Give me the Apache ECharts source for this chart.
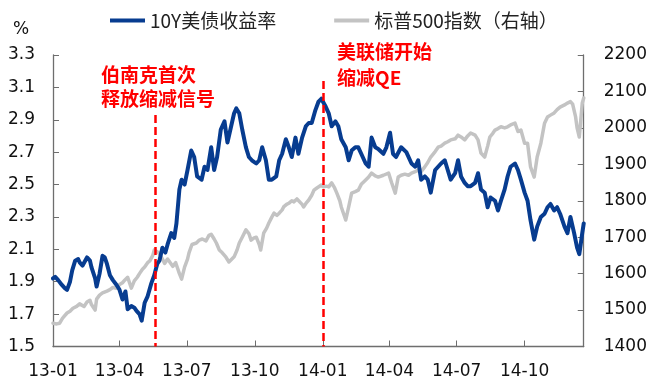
<!DOCTYPE html>
<html>
<head>
<meta charset="utf-8">
<script src="https://cdn.jsdelivr.net/npm/echarts@6/dist/echarts.min.js"></script>
<style>
  html, body { margin: 0; padding: 0; background: #fff; }
  #chart { width: 650px; height: 383px; }
</style>
</head>
<body>
<div id="chart"></div>
<script>
// 10-year Treasury yield (%), sampled by day offset from 2013-01-01
const yieldDays = [0,3,7,12,16,19,23,26,30,34,36,40,46,50,52,57,59,63,67,70,73,77,81,86,90,94,98,101,106,110,113,117,120,124,128,133,137,141,144,148,152,155,160,164,167,171,174,178,182,187,191,195,201,205,209,214,218,222,227,232,236,241,245,248,252,256,261,265,269,275,279,283,288,292,296,302,306,310,315,319,323,328,332,337,342,346,350,355,359,363,369,373,377,382,386,390,396,400,404,409,413,417,423,427,431,436,440,447,451,456,460,464,471,478,485,490,494,498,503,507,511,517,521,525,530,534,538,544,548,552,557,561,565,571,575,579,584,588,592,598,602,606,611,615,619,625,629,633,638,642,646,651,655,660,665,669,673,678,682,686,692,696,700,705,709,712,716,718];
const yieldValues = [1.92,1.93,1.91,1.88,1.86,1.85,1.90,1.97,2.03,2.04,2.02,2.00,2.05,2.03,1.99,1.92,1.87,1.95,2.06,2.05,2.01,1.94,1.91,1.88,1.85,1.79,1.84,1.73,1.75,1.74,1.72,1.70,1.66,1.77,1.81,1.89,1.94,2.01,2.03,2.11,2.08,2.13,2.20,2.17,2.26,2.47,2.53,2.50,2.59,2.71,2.67,2.55,2.53,2.61,2.59,2.73,2.59,2.67,2.84,2.89,2.76,2.86,2.94,2.97,2.94,2.84,2.73,2.67,2.65,2.63,2.65,2.73,2.65,2.53,2.53,2.55,2.65,2.69,2.78,2.73,2.67,2.79,2.69,2.79,2.86,2.88,2.88,2.96,3.01,3.03,2.98,2.94,2.86,2.89,2.86,2.78,2.73,2.65,2.71,2.73,2.73,2.69,2.63,2.61,2.79,2.73,2.72,2.69,2.73,2.82,2.69,2.67,2.73,2.70,2.63,2.61,2.65,2.53,2.55,2.53,2.45,2.59,2.61,2.63,2.65,2.59,2.53,2.57,2.65,2.55,2.51,2.49,2.49,2.51,2.57,2.47,2.45,2.36,2.42,2.40,2.34,2.40,2.47,2.55,2.61,2.63,2.59,2.53,2.45,2.40,2.28,2.16,2.24,2.30,2.32,2.36,2.38,2.34,2.36,2.32,2.24,2.20,2.30,2.20,2.11,2.07,2.20,2.26];

// S&P 500 index level, sampled by day offset from 2013-01-01
const spxDays = [0,5,9,13,19,23,27,32,36,42,46,50,52,57,59,63,67,73,77,81,86,90,94,97,101,106,110,114,117,121,124,128,131,135,137,141,144,148,151,155,157,162,166,168,171,174,178,182,184,188,194,198,202,207,211,214,218,221,225,229,234,238,242,245,249,252,256,261,265,268,272,275,279,281,285,289,292,296,299,303,306,310,312,316,319,323,326,330,332,337,339,343,346,350,353,357,359,363,366,370,373,377,381,384,388,390,393,396,400,404,409,413,417,423,427,431,436,440,447,454,458,463,467,471,476,481,485,490,494,498,503,507,511,517,521,525,530,534,538,544,548,552,557,561,565,571,575,579,584,588,591,595,598,602,606,611,615,619,625,629,633,638,642,646,651,655,660,665,669,673,678,682,686,692,696,700,703,707,709,712,716,718];
const spxValues = [1464,1462,1464,1478,1492,1497,1505,1510,1517,1510,1522,1527,1515,1500,1530,1541,1547,1552,1556,1562,1560,1570,1575,1582,1590,1560,1580,1590,1600,1612,1618,1630,1635,1650,1665,1660,1655,1640,1628,1640,1643,1620,1630,1635,1600,1585,1618,1640,1657,1680,1684,1692,1695,1690,1705,1708,1695,1684,1665,1657,1645,1632,1640,1646,1665,1684,1700,1720,1710,1692,1698,1700,1680,1665,1711,1725,1739,1755,1766,1760,1766,1775,1783,1790,1793,1800,1797,1805,1802,1790,1783,1795,1802,1815,1829,1835,1838,1843,1838,1840,1838,1849,1835,1821,1800,1783,1765,1747,1783,1821,1825,1829,1845,1857,1865,1876,1868,1865,1870,1876,1850,1821,1865,1870,1873,1870,1876,1880,1884,1880,1893,1905,1920,1935,1947,1950,1958,1962,1967,1970,1980,1975,1967,1978,1986,1980,1967,1931,1920,1950,1975,1985,1994,1998,2003,2000,2003,2008,2013,1990,1994,1958,1958,1893,1865,1920,1958,2013,2030,2035,2041,2050,2057,2063,2068,2072,2065,2030,2000,1975,2068,2082];

// Axis ticks
const monthTicks = ['2013-01-01','2013-04-01','2013-07-01','2013-10-01','2014-01-01','2014-04-01','2014-07-01','2014-10-01'];
const yieldTicks = [1.5,1.7,1.9,2.1,2.3,2.5,2.7,2.9,3.1,3.3];
const axisStart = '2013-01-01';
const axisEnd = '2014-12-20';

// Policy events marked with dashed lines
const eventDates = ['2013-05-19','2014-01-01'];
const eventTexts = ['伯南克首次\n释放缩减信号', '美联储开始\n缩减QE'];

const names = ['10Y美债收益率', '标普500指数（右轴）'];

function toTime(s) {
  const p = s.split('-').map(Number);
  return new Date(p[0], p[1] - 1, p[2]).getTime();
}
function dayToTime(d) {
  return new Date(2013, 0, 1 + d).getTime();
}

const yieldData = yieldDays.map((d, i) => [dayToTime(d), yieldValues[i]]);
const spxData = spxDays.map((d, i) => [dayToTime(d), spxValues[i]]);
const tickTimes = monthTicks.map(toTime);

const labelFont = "'DejaVu Sans', sans-serif";
const cjkFont = "'Noto Sans CJK SC', sans-serif";
const axisColor = '#6e6e6e';
const textColor = '#111';

const chart = echarts.init(document.getElementById('chart'), null, { renderer: 'canvas' });

chart.setOption({
  animation: false,
  backgroundColor: '#fff',
  grid: { left: 53, right: 63.5, top: 55, bottom: 36.5, containLabel: false },
  legend: {
    data: names,
    left: 105,
    top: 6,
    icon: 'rect',
    itemWidth: 35,
    itemHeight: 4,
    itemGap: 58,
    textStyle: { fontSize: 19, color: '#222', fontFamily: cjkFont }
  },
  xAxis: {
    // dates are plotted as timestamps on a linear scale with quarterly ticks
    type: 'value',
    min: toTime(axisStart),
    max: toTime(axisEnd),
    axisLine: { lineStyle: { color: axisColor, width: 1.3 } },
    axisTick: { inside: true, length: 6, customValues: tickTimes, lineStyle: { color: axisColor } },
    axisLabel: {
      customValues: tickTimes,
      margin: 17,
      fontSize: 17,
      fontFamily: labelFont,
      color: textColor,
      formatter: function (v) {
        const d = new Date(v);
        return String(d.getFullYear()).slice(2) + '-' + String(d.getMonth() + 1).padStart(2, '0');
      }
    },
    splitLine: { show: false }
  },
  yAxis: [
    {
      type: 'value',
      min: 1.5,
      max: 3.3,
      position: 'left',
      axisLine: { show: true, lineStyle: { color: axisColor, width: 1.3 } },
      axisTick: { show: true, inside: true, length: 6, customValues: yieldTicks, lineStyle: { color: axisColor } },
      axisLabel: {
        customValues: yieldTicks,
        margin: 18,
        fontSize: 17,
        fontFamily: labelFont,
        color: textColor,
        formatter: v => v.toFixed(1)
      },
      splitLine: { show: false }
    },
    {
      type: 'value',
      min: 1400,
      max: 2200,
      interval: 100,
      position: 'right',
      axisLine: { show: true, lineStyle: { color: axisColor, width: 1.3 } },
      axisTick: { show: true, inside: true, length: 6, lineStyle: { color: axisColor } },
      axisLabel: {
        margin: 20,
        fontSize: 17,
        fontFamily: labelFont,
        color: textColor,
        formatter: v => String(v)
      },
      splitLine: { show: false }
    }
  ],
  series: [
    {
      name: names[0],
      type: 'line',
      yAxisIndex: 0,
      data: yieldData,
      showSymbol: false,
      z: 3,
      itemStyle: { color: '#073c90' },
      lineStyle: { color: '#073c90', width: 4, join: 'round', cap: 'round' },
      markLine: {
        silent: true,
        symbol: 'none',
        z: 6,
        label: { show: false },
        lineStyle: { color: '#ff0000', type: [8, 4], width: 2.5 },
        data: [
          [{ coord: [toTime(eventDates[0]), 2.93] }, { coord: [toTime(eventDates[0]), 1.5] }],
          [{ coord: [toTime(eventDates[1]), 3.14] }, { coord: [toTime(eventDates[1]), 1.5] }]
        ]
      }
    },
    {
      name: names[1],
      type: 'line',
      yAxisIndex: 1,
      data: spxData,
      showSymbol: false,
      z: 2,
      itemStyle: { color: '#c3c3c3' },
      lineStyle: { color: '#c3c3c3', width: 3.5, join: 'round', cap: 'round' }
    }
  ],
  graphic: [
    { type: 'text', left: 13, top: 21, style: { text: '%', fontSize: 17, fontFamily: labelFont, fill: textColor } },
    { type: 'text', left: 101, top: 63, style: { text: eventTexts[0], fontSize: 19, fontWeight: 'bold', lineHeight: 24, fontFamily: cjkFont, fill: '#ff0000' } },
    { type: 'text', left: 337, top: 39, style: { text: eventTexts[1], fontSize: 19, fontWeight: 'bold', lineHeight: 26, fontFamily: cjkFont, fill: '#ff0000' } }
  ]
});
</script>
</body>
</html>
